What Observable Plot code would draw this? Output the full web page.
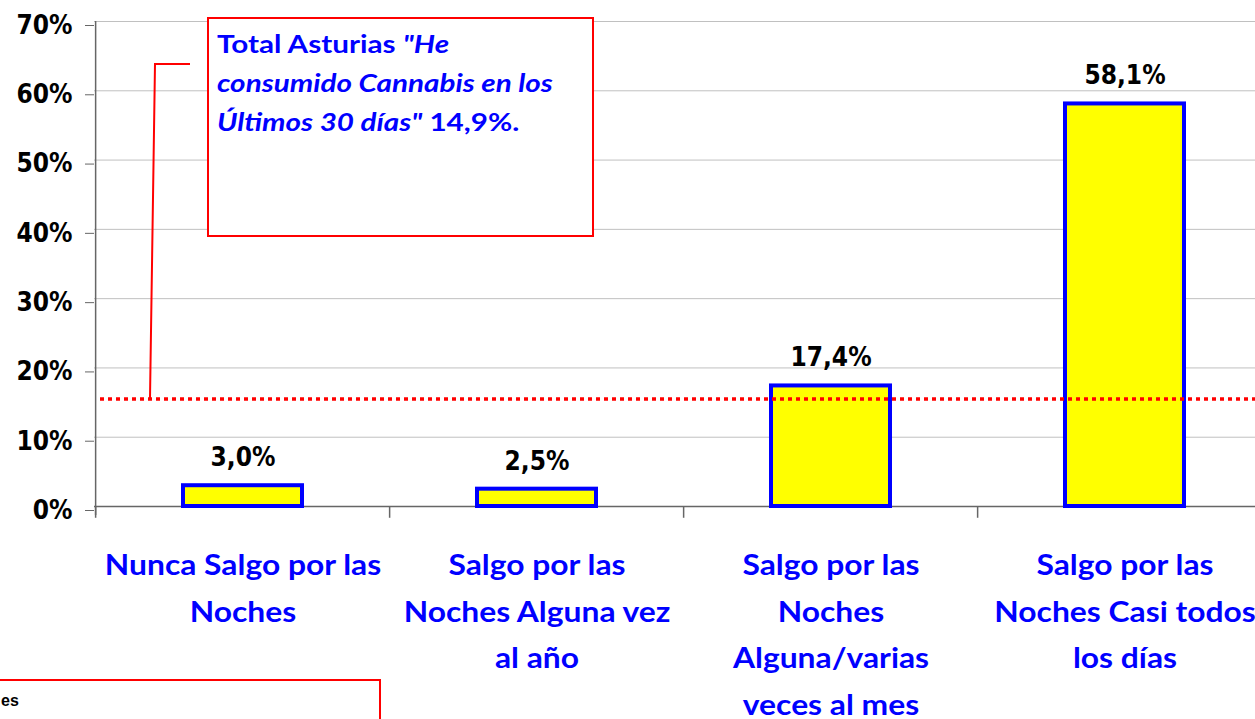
<!DOCTYPE html>
<html><head><meta charset="utf-8">
<script src="https://cdn.jsdelivr.net/npm/d3@7"></script>
<script src="https://cdn.jsdelivr.net/npm/@observablehq/plot@0.6"></script>
<style>html,body{margin:0;padding:0;background:#fff;overflow:hidden}</style>
</head><body><div id="chart"></div>
<script>
// ---- data ----
const categories = [
  "Nunca Salgo por las Noches",
  "Salgo por las Noches Alguna vez al año",
  "Salgo por las Noches Alguna/varias veces al mes",
  "Salgo por las Noches Casi todos los días"
];
const tickLabels = [
  "Nunca Salgo por las\nNoches",
  "Salgo por las\nNoches Alguna vez\nal año",
  "Salgo por las\nNoches\nAlguna/varias\nveces al mes",
  "Salgo por las\nNoches Casi todos\nlos días"
];
const values = [3.0, 2.5, 17.4, 58.1];
const valueLabels = ["3,0%", "2,5%", "17,4%", "58,1%"];
const yTicks = [0, 10, 20, 30, 40, 50, 60, 70];
const referenceValue = 15.5;      // where the dotted "Total Asturias" line is drawn
const annotationParts = [
  [["Total Asturias ", false], ["\"He", true]],
  [["consumido Cannabis en los", true]],
  [["Últimos 30 días\"", true], [" 14,9%.", false]]
];
const footerText = "es";

// ---- build ----
const data = categories.map((c, i) => ({cat: c, value: values[i], label: valueLabels[i]}));
const tickMap = new Map(categories.map((c, i) => [c, tickLabels[i]]));
const W = 1255, H = 719;
const xLeft = 94, xRight = 1273;
const step = (xRight - xLeft) / categories.length;
const blue = "#0000ff";
const numFont = "'DejaVu Sans Condensed', 'DejaVu Sans', sans-serif";
const labFont = "Lato, 'Noto Sans', sans-serif";
const labStretch = 1.136, noteStretch = 1.21;

function annotation(index, scales) {
  const g = d3.create("svg:g");
  const yRef = scales.y(referenceValue);
  g.append("polyline")
    .attr("points", `150,${yRef} 155,64 190,64`)
    .attr("fill", "none").attr("stroke", "#ff0000").attr("stroke-width", 2);
  g.append("rect").attr("x", 208).attr("y", 18).attr("width", 385).attr("height", 218)
    .attr("fill", "#fff").attr("stroke", "#ff0000").attr("stroke-width", 2);
  const t = g.append("text").attr("font-family", labFont).attr("font-weight", "bold")
    .attr("font-size", 24.5).attr("fill", blue).attr("text-anchor", "start")
    .attr("transform", `translate(217,0) scale(${noteStretch},1) translate(-217,0)`);
  annotationParts.forEach((line, li) => {
    line.forEach(([s, it], k) => {
      const ts = t.append("tspan").text(s).attr("font-style", it ? "italic" : "normal");
      if (k === 0) ts.attr("x", 217).attr("y", 53 + li * 39);
    });
  });
  // bottom-left box (partly outside the picture)
  g.append("rect").attr("x", -4).attr("y", 680).attr("width", 384).attr("height", 60)
    .attr("fill", "#fff").attr("stroke", "#ff0000").attr("stroke-width", 2);
  g.append("text").attr("x", 1).attr("y", 706).attr("text-anchor", "start")
    .attr("font-family", "'Liberation Sans', Arial, sans-serif")
    .attr("font-weight", "bold").attr("font-size", 16).attr("fill", "#000").text(footerText);
  return g.node();
}

const plot = Plot.plot({
  width: W, height: H,
  marginLeft: xLeft, marginRight: 0, marginTop: 21, marginBottom: H - 506,
  style: {background: "#fff", overflow: "hidden"},
  x: {type: "band", domain: categories, range: [xLeft, xRight], paddingInner: 0.596, paddingOuter: 0.298, label: null},
  y: {domain: [0, 70], label: null},
  marks: [
    Plot.gridY(yTicks, {stroke: "#c0c0c0", strokeOpacity: 1, strokeWidth: 1}),
    Plot.axisY(yTicks, {tickSize: 9, tickPadding: 13, tickFormat: d => d + "%", fontSize: 26,
      fontWeight: "bold", fontFamily: numFont, fill: "#000", stroke: "#666", dy: 4}),
    Plot.ruleY([0], {stroke: "#666", strokeWidth: 1.5}),
    Plot.ruleX(categories, {dx: -step / 2, y1: 0, y2: -1.7, stroke: "#666", strokeWidth: 1.5}),
    Plot.ruleX([categories[0]], {dx: -step / 2, y1: -1.3, y2: 70, stroke: "#666", strokeWidth: 1.5}),
    Plot.barY(data, {x: "cat", y: "value", fill: "#ffff00", stroke: blue, strokeWidth: 4}),
    Plot.ruleY([referenceValue], {stroke: "#ff0000", strokeWidth: 3.5, strokeDasharray: "4,4", insetLeft: 6}),
    Plot.text(data, {x: "cat", y: "value", text: "label", dy: -28, lineAnchor: "middle",
      fontSize: 26, fontWeight: "bold", fontFamily: numFont, fill: "#000"}),
    Plot.axisX({tickSize: 0, tickPadding: 36, tickFormat: d => tickMap.get(d), fontSize: 28,
      fontWeight: "bold", fontFamily: labFont, fill: blue, lineHeight: 1.66, textOverflow: null}),
    annotation
  ]
});
// widen the category labels horizontally to match the reference's wide bold face
d3.select(plot).selectAll("g[aria-label='x-axis tick label'] text").each(function () {
  const tr = this.getAttribute("transform");
  if (tr && tr.includes("translate")) {
    this.setAttribute("transform", tr + ` scale(${labStretch},1)`);
  } else {
    const x = +this.getAttribute("x") || 0;
    this.setAttribute("transform", `translate(${x},0) scale(${labStretch},1) translate(${-x},0)` + (tr ? " " + tr : ""));
  }
});
document.getElementById("chart").appendChild(plot);
</script>
</body></html>
